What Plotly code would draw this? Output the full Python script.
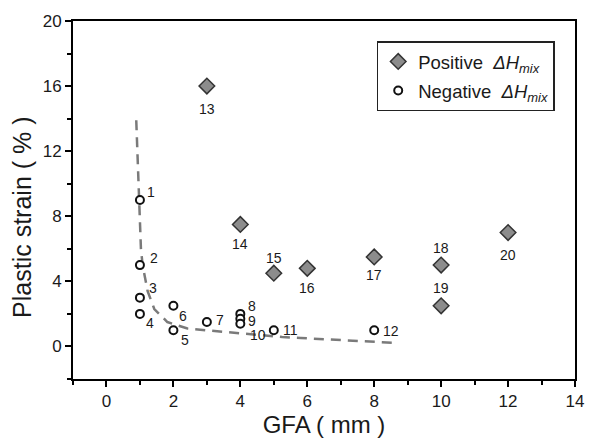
import plotly.graph_objects as go

# Alloys with negative mixing enthalpy (open circles)
neg_ids = ["1", "2", "3", "4", "5", "6", "7", "8", "9", "10", "11", "12"]
neg_gfa = [1, 1, 1, 1, 2, 2, 3, 4, 4, 4, 5, 8]
neg_strain = [9, 5, 3, 2, 1, 2.5, 1.5, 2.0, 1.7, 1.4, 1, 1]

# Alloys with positive mixing enthalpy (grey diamonds)
pos_ids = ["13", "14", "15", "16", "17", "18", "19", "20"]
pos_gfa = [3, 4, 5, 6, 8, 10, 10, 12]
pos_strain = [16, 7.5, 4.5, 4.8, 5.5, 5, 2.5, 7]

# Trend curve through the negative-enthalpy alloys
trend_gfa = [0.89, 0.93, 0.97, 1.0, 1.03, 1.08, 1.14, 1.23, 1.43, 1.82, 2.42,
             2.97, 3.52, 4.12, 4.71, 5.25, 5.81, 6.40, 6.95, 7.54, 8.0, 8.7]
trend_strain = [13.9, 11.5, 9.7, 8.0, 6.0, 5.0, 4.3, 3.4, 2.3, 1.5, 1.1,
                1.0, 0.88, 0.78, 0.64, 0.58, 0.52, 0.46, 0.40, 0.34, 0.30, 0.21]

# Label offsets in pixels (dx right, dy down) relative to each marker
neg_offsets = [(11, -8), (14, -7), (13, -10), (10, 9), (12, 10), (10, 10),
               (13, -2), (12, -8), (12, 2), (18, 11), (17, 0), (17, 1)]
pos_offsets = [(0, 23), (0, 20), (0, -15), (0, 20), (0, 18), (0, -17),
               (0, -18), (0, 22)]

FONT = "Liberation Sans, Arial, sans-serif"
INK = "#1a1a1a"

fig = go.Figure()

fig.add_trace(go.Scatter(
    x=trend_gfa, y=trend_strain, mode="lines",
    line=dict(color="#7a7a7a", width=2.5, dash="10px,7px"),
    showlegend=False, hoverinfo="skip",
))

fig.add_trace(go.Scatter(
    x=pos_gfa, y=pos_strain, mode="markers",
    name="Positive  <i>ΔH<sub>mix</sub></i>",
    marker=dict(symbol="diamond", size=12, color="#8c8c8c",
                line=dict(color="#333333", width=1.5)),
    legendgroup="pos",
))

fig.add_trace(go.Scatter(
    x=neg_gfa, y=neg_strain, mode="markers",
    name="Negative  <i>ΔH<sub>mix</sub></i>",
    marker=dict(symbol="circle", size=8, color="white",
                line=dict(color="#111111", width=2)),
    legendgroup="neg",
))

annotations = []
for ids, xs, ys, offs in [(neg_ids, neg_gfa, neg_strain, neg_offsets),
                          (pos_ids, pos_gfa, pos_strain, pos_offsets)]:
    for t, x, y, (dx, dy) in zip(ids, xs, ys, offs):
        annotations.append(dict(
            x=x, y=y, text=t, showarrow=False, xshift=dx, yshift=-dy,
            xanchor="center", yanchor="middle",
            font=dict(family=FONT, size=14, color=INK),
        ))

# Vertical axis title, drawn as an annotation so it can sit a little low
annotations.append(dict(
    x=0, y=0.45, xref="paper", yref="paper", xshift=-51,
    text="Plastic strain ( % )", textangle=-90, showarrow=False,
    xanchor="center", yanchor="middle",
    font=dict(family=FONT, size=25, color=INK),
))

axis_common = dict(
    showgrid=False, zeroline=False, showline=True, linewidth=2,
    linecolor="#000000", mirror=True, ticks="outside", ticklen=6,
    tickwidth=2, tickcolor="#000000",
    tickfont=dict(family=FONT, size=17, color=INK),
)

fig.update_layout(
    width=596, height=443,
    margin=dict(l=73, r=19, t=13, b=63),
    paper_bgcolor="white", plot_bgcolor="white",
    font=dict(family=FONT, color=INK),
    annotations=annotations,
    legend=dict(
        x=0.605, y=0.943, xanchor="left", yanchor="top",
        bordercolor="#222222", borderwidth=1.5, bgcolor="white",
        font=dict(family=FONT, size=18.5, color=INK),
        tracegroupgap=2, traceorder="grouped",
    ),
    xaxis=dict(
        range=[-1, 14], tick0=0, dtick=2,
        minor=dict(dtick=1, ticks="outside", ticklen=4, tickwidth=2,
                   tickcolor="#000000"),
        title=dict(text="GFA ( mm )", font=dict(family=FONT, size=24),
                   standoff=3),
        **axis_common,
    ),
    yaxis=dict(
        range=[-2, 20], tick0=0, dtick=4,
        minor=dict(dtick=2, ticks="outside", ticklen=4, tickwidth=2,
                   tickcolor="#000000"),
        **axis_common,
    ),
)

fig.write_html("out.html")
